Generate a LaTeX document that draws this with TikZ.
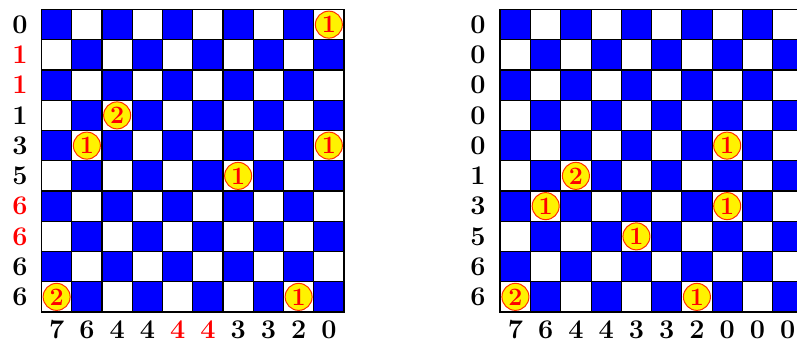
\documentclass[tikz,border=0pt]{standalone}
\usepackage{fontspec}
\begin{document}
\begin{tikzpicture}[x=1pt,y=-1pt,
  lab/.style={font=\fontsize{27}{27}\selectfont\bfseries, inner sep=0pt},
  coin/.style={circle, draw=orange!35!red, line width=1pt, fill=yellow,
    minimum size=27pt, inner sep=0pt, text=red,
    font=\fontsize{25}{25}\selectfont\bfseries},
  gridline/.style={line width=1.1pt, black},
  border/.style={line width=1.7pt, black}]
\clip (0,0) rectangle (797,342);
\fill[white] (0,0) rectangle (797,342);
\def\cs{30.25}
\foreach \b/\ox/\rx in {L/41.5/20, R/500.3/478} {
  % cells
  \foreach \i in {0,...,9} {
    \foreach \j in {0,...,9} {
      \pgfmathtruncatemacro\s{\i+\j}
      \ifodd\s\else
        \fill[blue] ({\ox+\j*\cs},{9.5+\i*\cs}) rectangle ++(\cs,\cs);
      \fi
    }
  }
  % grid lines
  \foreach \k in {1,...,9} {
    \draw[gridline] ({\ox+\k*\cs},9.5) -- ({\ox+\k*\cs},{9.5+10*\cs});
    \draw[gridline] (\ox,{9.5+\k*\cs}) -- ({\ox+10*\cs},{9.5+\k*\cs});
  }
  \draw[border] (\ox,9.5) rectangle ({\ox+10*\cs},{9.5+10*\cs});
}
% left board labels
\foreach \v/\c [count=\n from 0] in {0/black,1/red,1/red,1/black,3/black,5/black,6/red,6/red,6/black,6/black}
  \node[lab,text=\c] (L-row\n) at (20,{9.5+(\n+0.5)*\cs}) {\v};
\foreach \v/\c [count=\n from 0] in {7/black,6/black,4/black,4/black,4/red,4/red,3/black,3/black,2/black,0/black}
  \node[lab,text=\c] (L-col\n) at ({41.5+(\n+0.5)*\cs},330) {\v};
% right board labels
\foreach \v [count=\n from 0] in {0,0,0,0,0,1,3,5,6,6}
  \node[lab] (R-row\n) at (478,{9.5+(\n+0.5)*\cs}) {\v};
\foreach \v [count=\n from 0] in {7,6,4,4,3,3,2,0,0,0}
  \node[lab] (R-col\n) at ({500.3+(\n+0.5)*\cs},330) {\v};
% coins
\foreach \i/\j/\v in {0/9/1, 3/2/2, 4/1/1, 4/9/1, 5/6/1, 9/0/2, 9/8/1}
  \node[coin] (L-coin-\i-\j) at ({41.5+(\j+0.5)*\cs},{9.5+(\i+0.5)*\cs}) {\v};
\foreach \i/\j/\v in {4/7/1, 5/2/2, 6/1/1, 6/7/1, 7/4/1, 9/0/2, 9/6/1}
  \node[coin] (R-coin-\i-\j) at ({500.3+(\j+0.5)*\cs},{9.5+(\i+0.5)*\cs}) {\v};
\end{tikzpicture}
\end{document}
